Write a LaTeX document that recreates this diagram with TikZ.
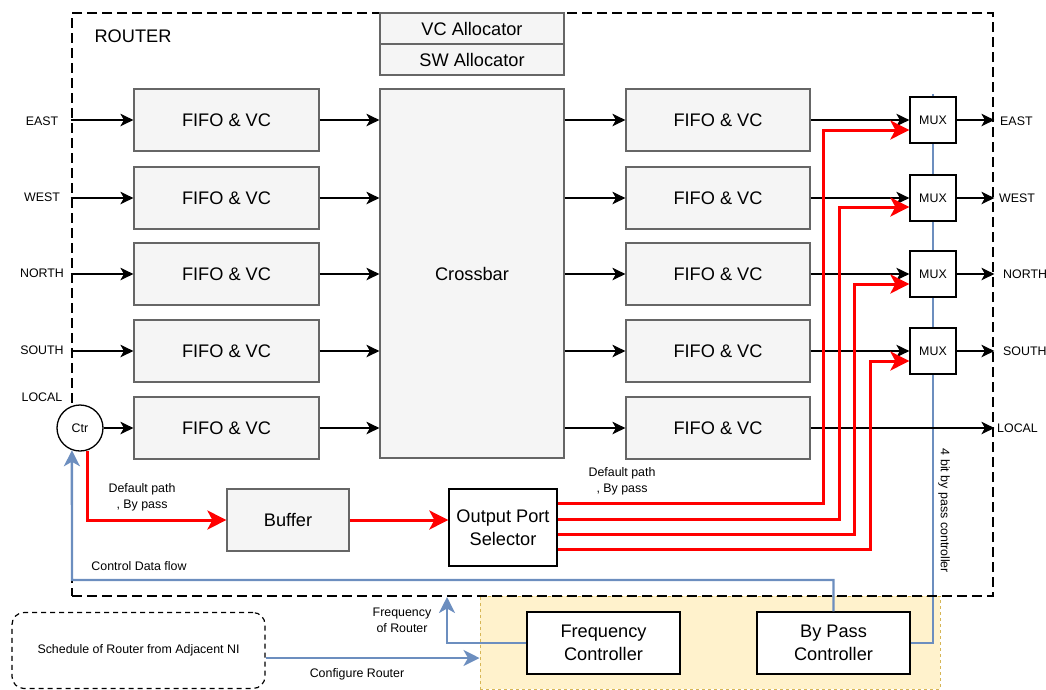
\documentclass[tikz,border=0pt]{standalone}
\usepackage{fontspec}
\setmainfont{Liberation Sans}
\usetikzlibrary{arrows.meta,backgrounds}

\definecolor{boxfill}{HTML}{F5F5F5}
\definecolor{boxline}{HTML}{666666}
\definecolor{ctrlblue}{HTML}{6C8EBF}
\definecolor{panelfill}{HTML}{FFF2CC}
\definecolor{panelline}{HTML}{D6B656}

\begin{document}
\begin{tikzpicture}[x=1pt,y=-1pt,
  big/.style={font=\fontsize{18.2}{23}\selectfont},
  small/.style={font=\fontsize{12.4}{16}\selectfont},
  graybox/.style={draw=boxline,fill=boxfill,line width=1.2pt,inner sep=0pt,big},
  whitebox/.style={draw=black,fill=white,line width=1.3pt,inner sep=0pt,big,align=center},
  muxbox/.style={draw=black,fill=white,line width=1.3pt,inner sep=0pt,small,minimum width=46pt,minimum height=46pt},
  blk/.style={draw=black,line width=1.4pt,-{Stealth[length=13pt,width=12.5pt,inset=3.5pt]}},
  redl/.style={draw=red,line width=3pt},
  reda/.style={redl,-{Stealth[length=19pt,width=19pt,inset=5pt]}},
  bluel/.style={draw=ctrlblue,line width=2.4pt},
  bluea/.style={bluel,-{Stealth[length=16pt,width=16pt,inset=4.5pt]}},
  lbl/.style={small,inner sep=0pt,align=center},
  fifo/.style={graybox,minimum width=185pt,minimum height=62pt},
]
\useasboundingbox (0,0) rectangle (1046,689);

% router boundary
\node[draw=black,line width=2.8pt,dash pattern=on 10pt off 5pt,minimum width=921pt,minimum height=583pt,inner sep=0pt] (router) at (532.5,304.5) {};
\node[big,inner sep=0pt] (rtitle) at (133,36.5) {ROUTER};

% allocators
\node[graybox,minimum width=184pt,minimum height=31pt] (vca) at (472,28.5) {VC Allocator};
\node[graybox,minimum width=184pt,minimum height=31pt] (swa) at (472,59.5) {SW Allocator};

% crossbar
\node[graybox,minimum width=184pt,minimum height=369pt] (xbar) at (472,273.5) {Crossbar};

% input and output buffers
\foreach \i/\y in {1/120,2/198,3/274,4/351,5/428}{
  \node[fifo] (in\i) at (226.5,\y) {FIFO \& VC};
  \node[fifo,minimum width=184pt] (out\i) at (718,\y) {FIFO \& VC};
}
\foreach \i/\y in {1/120,2/198,3/274,4/351}{
  \node[muxbox] (mux\i) at (933,\y) {MUX};
}

% local controller
\node[circle,draw=black,fill=white,line width=1.3pt,minimum size=46pt,inner sep=0pt,small] (ctr) at (80,428) {Ctr};

% side boxes
\node[graybox,minimum width=122pt,minimum height=62pt] (buf) at (288,520) {Buffer};
\node[whitebox,minimum width=108pt,minimum height=77pt] (ops) at (503,527.5) {Output Port\\Selector};

% control panel below the router
\begin{scope}[on background layer]
  \node[draw=panelline,fill=panelfill,line width=1pt,dash pattern=on 3pt off 3pt,minimum width=460pt,minimum height=93pt,inner sep=0pt] (panel) at (710,642.5) {};
\end{scope}
\node[whitebox,minimum width=153pt,minimum height=62pt] (fc) at (603.5,643) {Frequency\\Controller};
\node[whitebox,minimum width=153pt,minimum height=62pt] (byp) at (833.5,643) {By Pass\\Controller};
\node[draw=black,line width=1.2pt,dash pattern=on 5pt off 4pt,rounded corners=12pt,minimum width=253pt,minimum height=76pt,inner sep=0pt,small] (sched) at (138.5,650.5) {Schedule of Router from Adjacent NI};

% port labels
\node[lbl] (lE) at (42,121) {EAST};
\node[lbl] (lW) at (42,197) {WEST};
\node[lbl] (lN) at (42,273) {NORTH};
\node[lbl] (lS) at (42,350) {SOUTH};
\node[lbl] (lL) at (42,397) {LOCAL};
\node[lbl,anchor=west] (rE) at (1000,121) {EAST};
\node[lbl,anchor=west] (rW) at (999,198) {WEST};
\node[lbl,anchor=west] (rN) at (1003,274) {NORTH};
\node[lbl,anchor=west] (rS) at (1003,351) {SOUTH};
\node[lbl,anchor=west] (rL) at (997,428) {LOCAL};

% data path arrows
\foreach \i in {1,2,3,4}{
  \draw[blk] (router.west |- in\i) -- (in\i);
}
\draw[blk] (ctr) -- (in5);
\foreach \i in {1,...,5}{
  \draw[blk] (in\i.east) -- (in\i.east -| xbar.west);
  \draw[blk] (out\i.west -| xbar.east) -- (out\i.west);
}
\foreach \i in {1,2,3,4}{
  \draw[blk] (out\i.east) -- (mux\i.west);
  \draw[blk] (mux\i.east) -- (router.east |- mux\i);
}
\draw[blk] (out5.east) -- (router.east |- out5);

% bypass path
\draw[reda] (ctr.-72) |- (buf.west);
\draw[reda] (buf.east) -- (buf.east -| ops.west);
\draw[reda] ([yshift=24.5pt]ops.east) -| ([xshift=-86pt,yshift=-10pt]mux1.west) -- ([yshift=-10pt]mux1.west);
\draw[reda] ([yshift=8.5pt]ops.east) -| ([xshift=-70pt,yshift=-9pt]mux2.west) -- ([yshift=-9pt]mux2.west);
\draw[reda] ([yshift=-6.5pt]ops.east) -| ([xshift=-55pt,yshift=-10pt]mux3.west) -- ([yshift=-10pt]mux3.west);
\draw[reda] ([yshift=-21.5pt]ops.east) -| ([xshift=-39pt,yshift=-10pt]mux4.west) -- ([yshift=-10pt]mux4.west);

\node[lbl] (dp1) at (142,497) {Default path\\, By pass};
\node[lbl] (dp2) at (622,481.5) {Default path\\, By pass};

% control lines
\begin{scope}[on background layer]
  \draw[bluel] (byp.east) -| ([yshift=2pt]mux1.north);
\end{scope}
\coordinate (cdf) at (72,580);
\draw[bluea] (byp.north) |- (cdf) -- (ctr.-110);
\node[lbl] (cdfl) at (139,566) {Control Data flow};

\coordinate (frq) at (447,597);
\draw[bluea] (fc.west) -| (frq);
\node[lbl] (frql) at (402,620) {Frequency\\of Router};

\draw[bluea] (sched.east |- 0,658) -- (panel.west |- 0,658);
\node[lbl] (cfgl) at (357,674) {Configure Router};

\node[lbl,rotate=-90] (bitl) at (944,511) {4 bit by pass controller};
\end{tikzpicture}
\end{document}
